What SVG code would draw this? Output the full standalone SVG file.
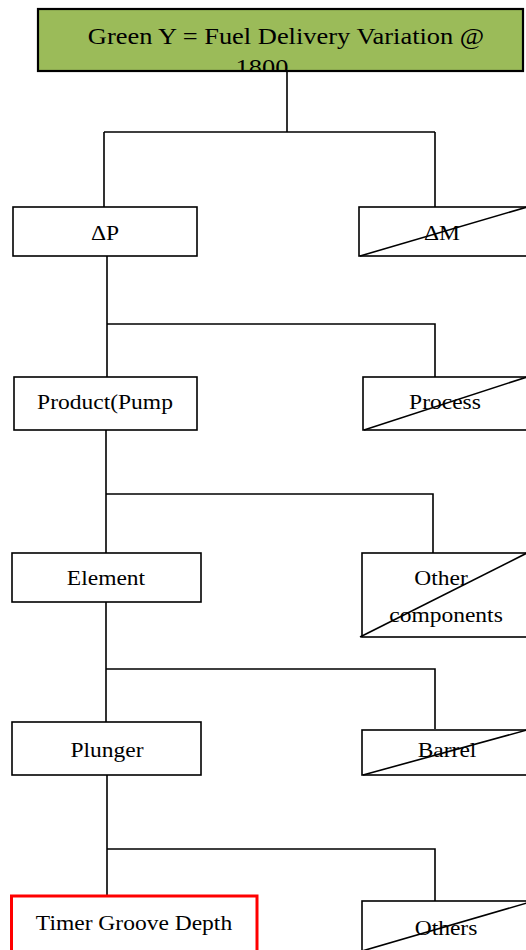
<svg xmlns="http://www.w3.org/2000/svg" width="526" height="950" viewBox="0 0 526 950">
<style>
.box{fill:#fff;stroke:#000;stroke-width:1.6}
.title{fill:#9BBB59;stroke:#000;stroke-width:2.2}
.red{fill:#fff;stroke:#ff0000;stroke-width:3}
.lbl{font-family:"Liberation Serif","Times New Roman",serif;font-size:21px;fill:#000;text-anchor:middle}
.big{font-size:23px}
.conn{fill:none;stroke:#000;stroke-width:1.6}
.x{stroke:#000;stroke-width:1.6}
</style>
<defs>
<clipPath id="clipTop"><rect x="39" y="10" width="483" height="60"/></clipPath>
</defs>
<rect width="526" height="950" fill="#fff"/>
<g id="connectors">
<path class="conn" d="M287,71 V132 M104,132 H435 M104,132 V207 M435,132 V207"/>
<path class="conn" d="M107,256 V377 M107,324 H435 V377"/>
<path class="conn" d="M106,430 V553 M106,494 H433 V553"/>
<path class="conn" d="M106,602 V722 M106,669 H435 V729"/>
<path class="conn" d="M107,775 V895 M107,849 H435 V901"/>
</g>
<g id="node-top">
<rect class="title" x="38" y="9" width="485" height="62"/>
<g clip-path="url(#clipTop)">
<text class="lbl big" transform="translate(286 44) scale(1.15 1)">Green Y = Fuel Delivery Variation @</text>
<text class="lbl big" transform="translate(262 75) scale(1.15 1)">1800</text>
</g>
</g>
<g id="node-dp">
<rect class="box" x="13" y="207" width="184" height="49"/>
<text class="lbl" transform="translate(105 240) scale(1.12 1)">ΔP</text>
</g>
<g id="node-dm">
<rect class="box" x="359" y="207" width="170" height="49"/>
<text class="lbl" transform="translate(442 240) scale(1.12 1)">ΔM</text>
<line class="x" x1="360" y1="256" x2="527" y2="207"/>
</g>
<g id="node-product">
<rect class="box" x="14" y="377" width="183" height="53"/>
<text class="lbl" transform="translate(105 409) scale(1.12 1)">Product(Pump</text>
</g>
<g id="node-process">
<rect class="box" x="363" y="377" width="166" height="53"/>
<text class="lbl" transform="translate(445 409) scale(1.12 1)">Process</text>
<line class="x" x1="364" y1="430" x2="527" y2="377"/>
</g>
<g id="node-element">
<rect class="box" x="12" y="553" width="189" height="49"/>
<text class="lbl" transform="translate(106 585) scale(1.12 1)">Element</text>
</g>
<g id="node-other-components">
<rect class="box" x="362" y="553" width="167" height="84"/>
<text class="lbl" transform="translate(441 585) scale(1.12 1)">Other</text>
<text class="lbl" transform="translate(446 622) scale(1.12 1)">components</text>
<line class="x" x1="360" y1="637" x2="527" y2="553"/>
</g>
<g id="node-plunger">
<rect class="box" x="12" y="722" width="189" height="53"/>
<text class="lbl" transform="translate(107 757) scale(1.12 1)">Plunger</text>
</g>
<g id="node-barrel">
<rect class="box" x="362" y="730" width="167" height="45"/>
<text class="lbl" transform="translate(447 757) scale(1.12 1)">Barrel</text>
<line class="x" x1="363" y1="775" x2="527" y2="730"/>
</g>
<g id="node-timer">
<rect class="red" x="11.5" y="896" width="245.5" height="60"/>
<text class="lbl" transform="translate(134 930) scale(1.12 1)">Timer Groove Depth</text>
</g>
<g id="node-others">
<rect class="box" x="362" y="901" width="167" height="50"/>
<text class="lbl" transform="translate(446 935) scale(1.12 1)">Others</text>
<line class="x" x1="362" y1="951" x2="527" y2="903"/>
</g>
</svg>
